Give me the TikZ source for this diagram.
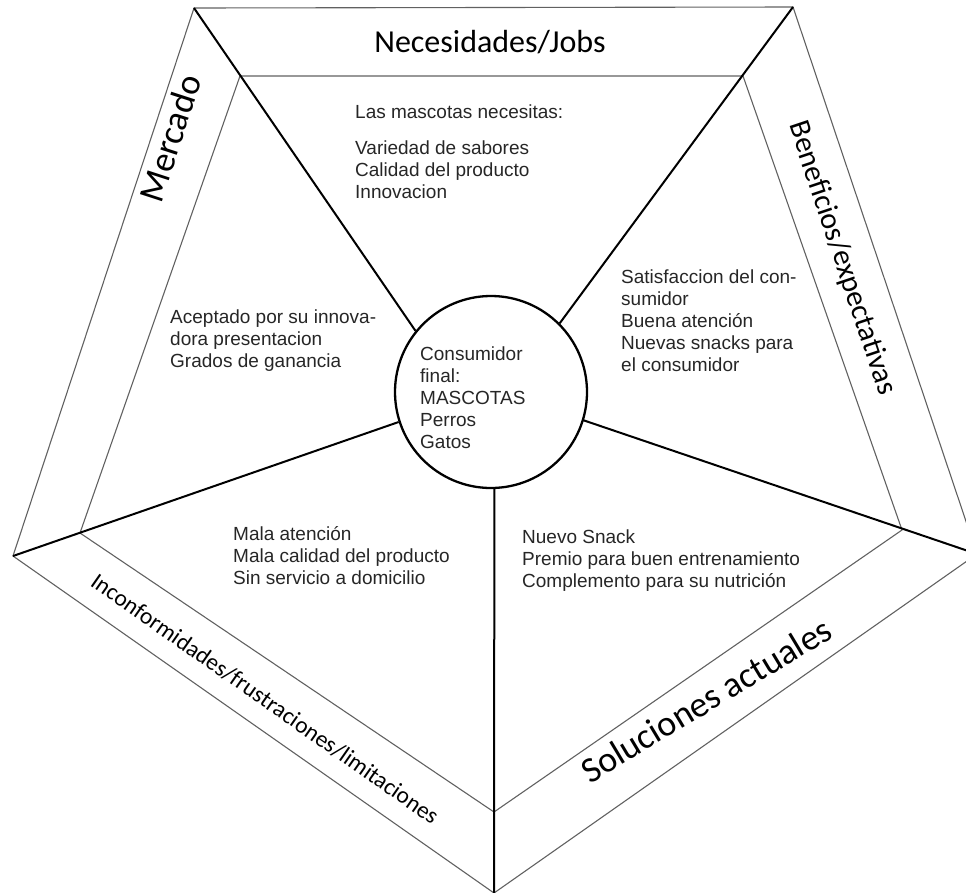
\documentclass[tikz,border=0pt]{standalone}
\usepackage{fontspec}
\setmainfont{Liberation Sans}
\newfontfamily\titlefont{Carlito}
\begin{document}
\begin{tikzpicture}[x=1pt,y=-1pt,
  edge/.style={draw=black!62, line width=1.1pt, line join=miter},
  spoke/.style={draw=black, line width=2pt},
  body/.style={font=\fontsize{19}{22}\selectfont, text=black!85, inner sep=0pt, anchor=north west, align=left},
  title/.style={font=\titlefont\fontsize{32}{38}\selectfont, inner sep=0pt, anchor=center}]
\useasboundingbox (0,0) rectangle (966,892);
% outer pentagon
\coordinate (o1) at (194,8);
\coordinate (o2) at (793,7);
\coordinate (o3) at (977,554);
\coordinate (o4) at (494,893);
\coordinate (o5) at (13,556);
% inner pentagon
\coordinate (i1) at (240,76);
\coordinate (i2) at (743,76);
\coordinate (i3) at (902,530);
\coordinate (i4) at (494,812);
\coordinate (i5) at (80,533);
\draw[edge] (o1) -- (o2) -- (o3) -- (o4) -- (o5) -- cycle;
\draw[edge] (i1) -- (i2) -- (i3) -- (i4) -- (i5) -- cycle;
% centre circle
\node[draw=black, line width=2.3pt, circle, minimum size=192pt, inner sep=0pt] (circ) at (491,392) {};
\draw[spoke] (o1) -- (circ.141);
\draw[spoke] (o2) -- (circ.45);
\draw[spoke] (o3) -- (circ.343);
\draw[spoke] (o4) -- (circ.272);
\draw[spoke] (o5) -- (circ.198);
% band titles
\node[title] (tNec) at (490,42) {Necesidades/Jobs};
\node[title, rotate=72, font=\titlefont\fontsize{36}{42}\selectfont] (tMer) at (170,138) {Mercado};
\node[title, rotate=-71.5, font=\titlefont\fontsize{30}{36}\selectfont] (tBen) at (842,258) {Beneficios/expectativas};
\node[title, rotate=-35, font=\titlefont\fontsize{23.5}{28}\selectfont] (tInc) at (265,699) {Inconformidades/frustraciones/limitaciones};
\node[title, rotate=31, font=\titlefont\fontsize{36}{42}\selectfont] (tSol) at (706,700) {Soluciones actuales};
% texts
\node[body] (txNec) at (355,105) {Las mascotas necesitas:\\[14pt]Variedad de sabores\\Calidad del producto\\Innovacion};
\node[body] (txBen) at (621,270) {Satisfaccion del con-\\sumidor\\Buena atención\\Nuevas snacks para\\el consumidor};
\node[body] (txMer) at (170,310) {Aceptado por su innova-\\dora presentacion\\Grados de ganancia};
\node[body] (txCon) at (420,347) {Consumidor\\final:\\MASCOTAS\\Perros\\Gatos};
\node[body] (txInc) at (233,526) {Mala atención\\Mala calidad del producto\\Sin servicio a domicilio};
\node[body] (txSol) at (522,530) {Nuevo Snack\\Premio para buen entrenamiento\\Complemento para su nutrición};
\end{tikzpicture}
\end{document}
